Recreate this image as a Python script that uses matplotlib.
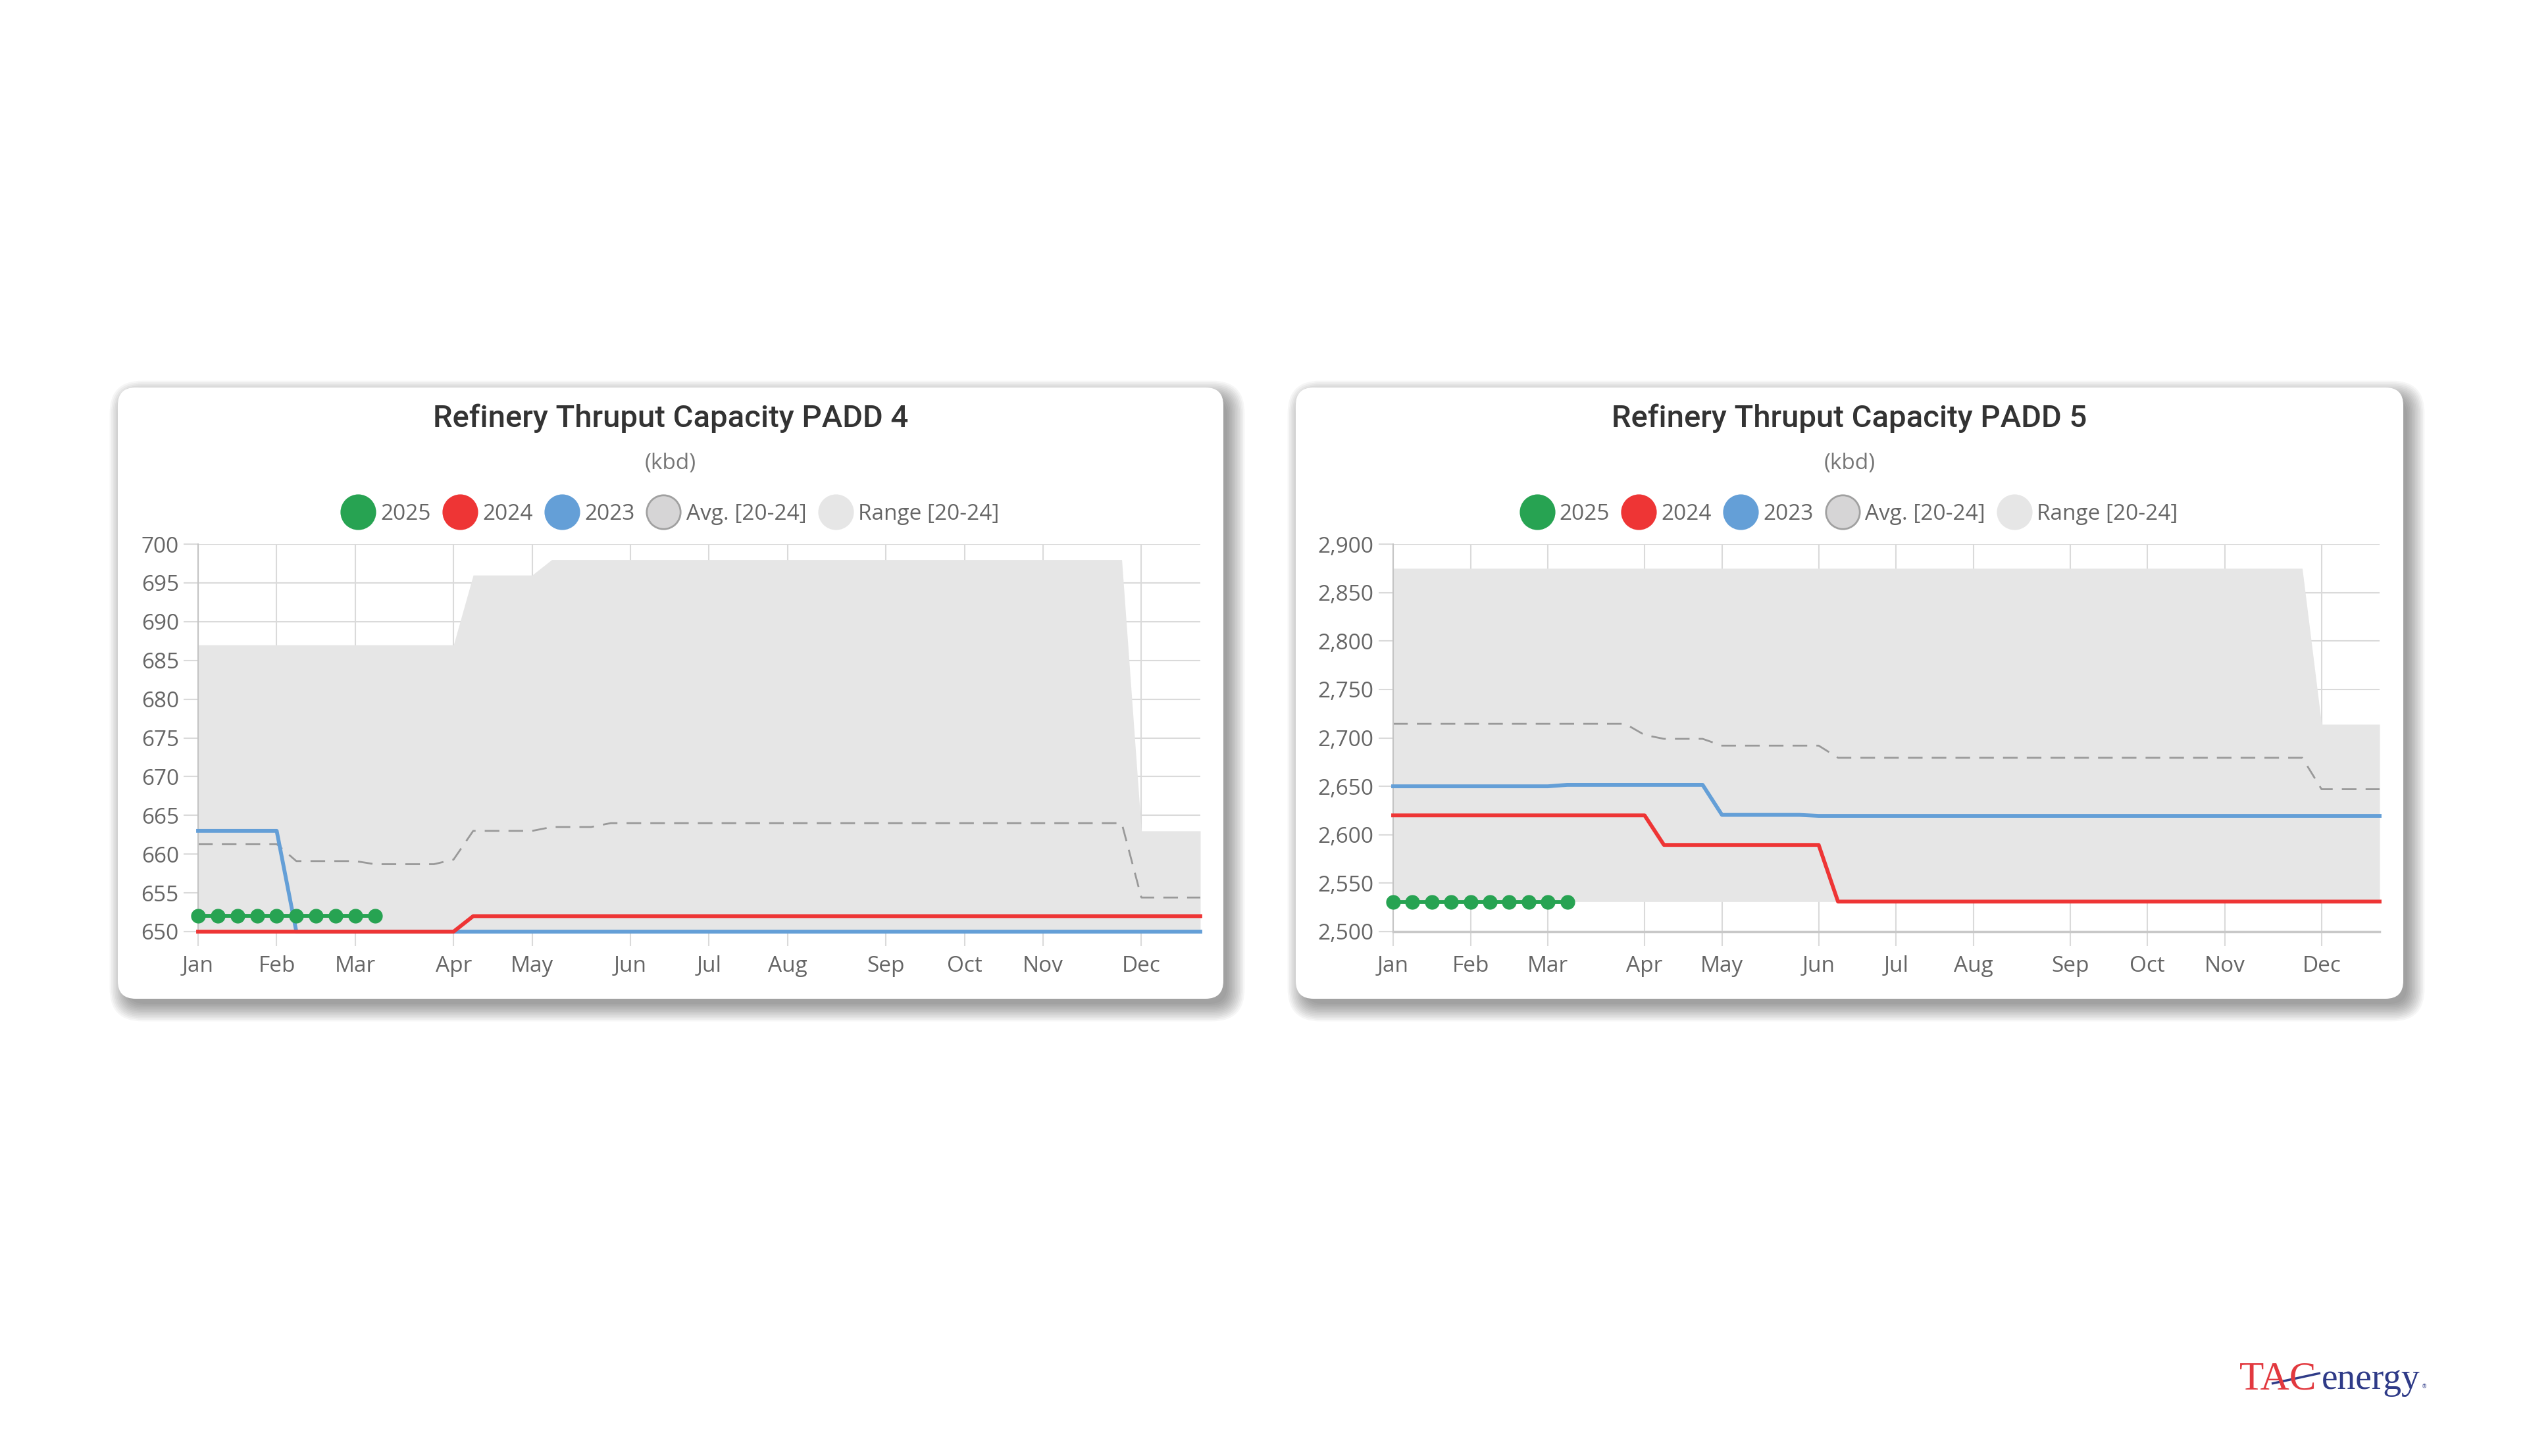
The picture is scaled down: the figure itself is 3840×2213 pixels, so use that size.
import numpy as np
import matplotlib
matplotlib.use("Agg")
import matplotlib.pyplot as plt
from matplotlib.patches import FancyBboxPatch
from matplotlib.lines import Line2D
from matplotlib.ticker import StrMethodFormatter

# week index 0..51, month labels on the weeks where each month starts
weeks = np.arange(52)
month_weeks = [0, 4, 8, 13, 17, 22, 26, 30, 35, 39, 43, 48]
month_labels = ['Jan', 'Feb', 'Mar', 'Apr', 'May', 'Jun', 'Jul', 'Aug', 'Sep', 'Oct', 'Nov', 'Dec']

# PADD 4 (kbd)
p4_2025 = [652, 652, 652, 652, 652, 652, 652, 652, 652, 652]
p4_2024 = [650, 650, 650, 650, 650, 650, 650, 650, 650, 650, 650, 650, 650, 650,
           652, 652, 652, 652, 652, 652, 652, 652, 652, 652, 652, 652, 652, 652,
           652, 652, 652, 652, 652, 652, 652, 652, 652, 652, 652, 652, 652, 652,
           652, 652, 652, 652, 652, 652, 652, 652, 652, 652]
p4_2023 = [663, 663, 663, 663, 663, 650, 650, 650, 650, 650, 650, 650, 650, 650,
           650, 650, 650, 650, 650, 650, 650, 650, 650, 650, 650, 650, 650, 650,
           650, 650, 650, 650, 650, 650, 650, 650, 650, 650, 650, 650, 650, 650,
           650, 650, 650, 650, 650, 650, 650, 650, 650, 650]
p4_avg = [661.3, 661.3, 661.3, 661.3, 661.3, 659.1, 659.1, 659.1, 659.1, 658.7,
          658.7, 658.7, 658.7, 659.3, 663.0, 663.0, 663.0, 663.0, 663.5, 663.5,
          663.5, 664.0, 664.0, 664.0, 664.0, 664.0, 664.0, 664.0, 664.0, 664.0,
          664.0, 664.0, 664.0, 664.0, 664.0, 664.0, 664.0, 664.0, 664.0, 664.0,
          664.0, 664.0, 664.0, 664.0, 664.0, 664.0, 664.0, 664.0, 654.4, 654.4,
          654.4, 654.4]
p4_hi = [687, 687, 687, 687, 687, 687, 687, 687, 687, 687, 687, 687, 687, 687,
         696, 696, 696, 696, 698, 698, 698, 698, 698, 698, 698, 698, 698, 698,
         698, 698, 698, 698, 698, 698, 698, 698, 698, 698, 698, 698, 698, 698,
         698, 698, 698, 698, 698, 698, 663, 663, 663, 663]
p4_lo = [650] * 52

# PADD 5 (kbd)
p5_2025 = [2530.5, 2530.5, 2530.5, 2530.5, 2530.5, 2530.5, 2530.5, 2530.5, 2530.5, 2530.5]
p5_2024 = [2620, 2620, 2620, 2620, 2620, 2620, 2620, 2620, 2620, 2620, 2620, 2620, 2620,
           2620, 2589.5, 2589.5, 2589.5, 2589.5, 2589.5, 2589.5, 2589.5, 2589.5, 2589.5,
           2531, 2531, 2531, 2531, 2531, 2531, 2531, 2531, 2531, 2531, 2531, 2531, 2531,
           2531, 2531, 2531, 2531, 2531, 2531, 2531, 2531, 2531, 2531, 2531, 2531, 2531,
           2531, 2531, 2531]
p5_2023 = [2650, 2650, 2650, 2650, 2650, 2650, 2650, 2650, 2650, 2651.5, 2651.5, 2651.5,
           2651.5, 2651.5, 2651.5, 2651.5, 2651.5, 2620.5, 2620.5, 2620.5, 2620.5, 2620.5,
           2619.5, 2619.5, 2619.5, 2619.5, 2619.5, 2619.5, 2619.5, 2619.5, 2619.5, 2619.5,
           2619.5, 2619.5, 2619.5, 2619.5, 2619.5, 2619.5, 2619.5, 2619.5, 2619.5, 2619.5,
           2619.5, 2619.5, 2619.5, 2619.5, 2619.5, 2619.5, 2619.5, 2619.5, 2619.5, 2619.5]
p5_avg = [2714.5, 2714.5, 2714.5, 2714.5, 2714.5, 2714.5, 2714.5, 2714.5, 2714.5, 2714.5,
          2714.5, 2714.5, 2714.5, 2703, 2699, 2699, 2699, 2692, 2692, 2692, 2692, 2692,
          2692, 2679.5, 2679.5, 2679.5, 2679.5, 2679.5, 2679.5, 2679.5, 2679.5, 2679.5,
          2679.5, 2679.5, 2679.5, 2679.5, 2679.5, 2679.5, 2679.5, 2679.5, 2679.5, 2679.5,
          2679.5, 2679.5, 2679.5, 2679.5, 2679.5, 2679.5, 2647, 2647, 2647, 2647]
p5_hi = [2875] * 48 + [2714, 2714, 2714, 2714]
p5_lo = [2531] * 52

C_2025 = '#27a352'
C_2024 = '#ee3535'
C_2023 = '#649fd7'
C_AVG = '#999999'
C_RANGE = '#e6e6e6'
TXT = '#666666'
SANS = ['Open Sans', 'DejaVu Sans']

W, H = 3840, 2213
fig = plt.figure(figsize=(W / 100, H / 100), dpi=100)
fig.patch.set_facecolor('white')

# background layer in pixel units (y down)
bg = fig.add_axes([0, 0, 1, 1], zorder=-10)
bg.set_xlim(0, W)
bg.set_ylim(H, 0)
bg.axis('off')


def card(x0, y0, x1, y1, r=27):
    # soft drop shadow, then the white card
    for i in range(12):
        e = -4 + 2.4 * i
        sh = FancyBboxPatch((x0 + 10 - e, y0 + 12 - e), (x1 - x0) + 2 * e, (y1 - y0) + 2 * e,
                            boxstyle=f"round,pad=0,rounding_size={r + max(e, 0)}",
                            fc='black', ec='none', alpha=0.036)
        bg.add_patch(sh)
    bg.add_patch(FancyBboxPatch((x0, y0), x1 - x0, y1 - y0,
                                boxstyle=f"round,pad=0,rounding_size={r}",
                                fc='white', ec='none'))


def panel(rect, card_box, title, lo, hi, avg, y23, y24, y25, ylim, yticks, fmt):
    x0, y0, x1, y1 = card_box
    card(x0, y0, x1, y1)
    cx = (x0 + x1) / 2
    bg.text(cx, 649, title, ha='center', va='baseline', fontsize=34,
            family=['Roboto', 'DejaVu Sans'], fontweight='medium', color='#333333')
    bg.text(cx, 713, '(kbd)', ha='center', va='baseline', fontsize=24, family=SANS, color='#777777')

    ax = fig.add_axes(rect)
    ax.set_facecolor('none')
    ax.fill_between(weeks, lo, hi, color=C_RANGE, lw=0, zorder=1)
    ax.plot(weeks, avg, color=C_AVG, lw=2.0, ls=(0, (8, 5)), zorder=2, clip_on=False)
    ax.plot(weeks, y23, color=C_2023, lw=4.2, zorder=3, clip_on=False)
    ax.plot(weeks, y24, color=C_2024, lw=4.2, zorder=4, clip_on=False)
    ax.plot(weeks[:len(y25)], y25, color=C_2025, lw=4.2, marker='o', ms=15,
            zorder=5, clip_on=False)

    ax.set_xlim(0, 51)
    ax.set_ylim(*ylim)
    ax.set_xticks(month_weeks)
    ax.set_xticklabels(month_labels)
    ax.set_yticks(yticks)
    if fmt:
        ax.yaxis.set_major_formatter(StrMethodFormatter('{x:,.0f}'))
    ax.set_axisbelow(True)
    ax.grid(True, color='#dadada', lw=1.5)
    for s in ['top', 'right']:
        ax.spines[s].set_visible(False)
    ax.spines['left'].set_color('#c4c4c4')
    ax.spines['left'].set_linewidth(1.5)
    ax.spines['bottom'].set_color('#c8c8c8')
    ax.spines['bottom'].set_linewidth(2.5)
    ax.tick_params(axis='both', length=16, width=1.5, color='#dadada', labelcolor=TXT, labelsize=24)
    ax.tick_params(axis='y', pad=5)
    ax.tick_params(axis='x', pad=10)
    for lab in ax.get_xticklabels() + ax.get_yticklabels():
        lab.set_family(SANS)

    handles = [
        Line2D([], [], ls='none', marker='o', ms=39, mfc=C_2025, mec='none', label='2025'),
        Line2D([], [], ls='none', marker='o', ms=39, mfc=C_2024, mec='none', label='2024'),
        Line2D([], [], ls='none', marker='o', ms=39, mfc=C_2023, mec='none', label='2023'),
        Line2D([], [], ls='none', marker='o', ms=37, mfc='#d6d5d6', mec='#a0a0a0', mew=2,
               label='Avg. [20-24]'),
        Line2D([], [], ls='none', marker='o', ms=39, mfc=C_RANGE, mec='none', label='Range [20-24]'),
    ]
    leg = ax.legend(handles=handles, loc='center', bbox_to_anchor=(cx, 781),
                    bbox_transform=bg.transData, ncol=5, frameon=False,
                    handlelength=1.45, handletextpad=0.3, columnspacing=0.6,
                    borderpad=0, borderaxespad=0,
                    prop={'family': SANS, 'size': 24})
    for t in leg.get_texts():
        t.set_color(TXT)
    return ax


def frac(x0, x1, y_top, y_bot):
    return [x0 / W, 1 - y_bot / H, (x1 - x0) / W, (y_bot - y_top) / H]


panel(frac(301, 1824, 827, 1416), (179, 589, 1859, 1518),
      'Refinery Thruput Capacity PADD 4', p4_lo, p4_hi, p4_avg, p4_2023, p4_2024, p4_2025,
      (650, 700), np.arange(650, 701, 5), False)
panel(frac(2117, 3616, 827, 1416), (1969, 589, 3652, 1518),
      'Refinery Thruput Capacity PADD 5', p5_lo, p5_hi, p5_avg, p5_2023, p5_2024, p5_2025,
      (2500, 2900), np.arange(2500, 2901, 50), True)

# logo
bg.text(3403, 2111, 'TAC', ha='left', va='baseline', fontsize=44,
        family=['Liberation Serif', 'DejaVu Serif'], color='#e2393f')
bg.text(3528, 2111, 'energy', ha='left', va='baseline', fontsize=40,
        family=['Liberation Serif', 'DejaVu Serif'], color='#2f3b88')
bg.plot([3452, 3526], [2103, 2087], color='#2f3b88', lw=2.5, solid_capstyle='butt')
bg.text(3680, 2110, '®', ha='left', va='baseline', fontsize=6, color='#2f3b88')

fig.savefig('out.png', dpi=100, facecolor='white')
